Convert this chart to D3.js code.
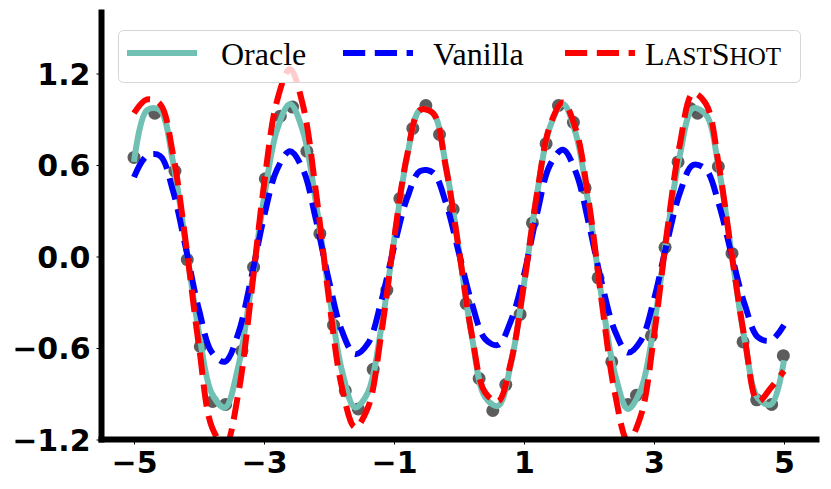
<!DOCTYPE html>
<html>
<head>
<meta charset="utf-8">
<script src="https://cdn.jsdelivr.net/npm/d3@7"></script>
<style>
body { margin: 0; background: #fff; }
svg { display: block; }
</style>
</head>
<body>
<svg id="svg" width="831" height="489"></svg>
<script>
// x grid shared by the three curves
var xGrid = [-5.0,-4.8,-4.6,-4.4,-4.2,-4.0,-3.8,-3.6,-3.4,-3.2,-3.0,-2.8,-2.6,-2.4,-2.2,-2.0,-1.8,-1.6,-1.4,-1.2,
             -1.0,-0.8,-0.6,-0.4,-0.2,0.0,0.2,0.4,0.6,0.8,1.0,1.2,1.4,1.6,1.8,2.0,2.2,2.4,2.6,2.8,
             3.0,3.2,3.4,3.6,3.8,4.0,4.2,4.4,4.6,4.8,5.0];

var oracle = [0.62,0.96,0.96,0.62,0.07,-0.50,-0.90,-0.99,-0.73,-0.21,0.38,0.83,1.00,0.82,0.35,-0.24,-0.75,-0.99,-0.89,-0.48,
              0.10,0.65,0.96,0.94,0.59,0.04,-0.53,-0.92,-0.98,-0.70,-0.18,0.41,0.85,1.00,0.80,0.32,-0.28,-0.77,-1.00,-0.87,
              -0.45,0.14,0.67,0.97,0.93,0.57,0.00,-0.56,-0.93,-0.97,-0.68];

var vanilla = [0.52,0.66,0.66,0.43,0.05,-0.35,-0.63,-0.69,-0.51,-0.15,0.26,0.57,0.69,0.57,0.24,-0.16,-0.49,-0.64,-0.57,-0.30,
               0.06,0.38,0.56,0.55,0.35,0.02,-0.31,-0.54,-0.58,-0.42,-0.12,0.28,0.60,0.70,0.55,0.21,-0.18,-0.49,-0.63,-0.55,
               -0.28,0.09,0.42,0.60,0.57,0.34,0.00,-0.32,-0.53,-0.55,-0.45];

var lastShot = [0.94,1.03,1.00,0.67,0.08,-0.59,-1.12,-1.24,-0.91,-0.26,0.47,1.02,1.23,0.99,0.42,-0.28,-0.86,-1.12,-0.99,-0.52,
                0.11,0.66,0.96,0.94,0.58,0.04,-0.52,-0.89,-0.95,-0.69,-0.18,0.41,0.86,1.01,0.83,0.35,-0.31,-0.90,-1.21,-1.04,
                -0.52,0.16,0.74,1.07,1.00,0.59,0.00,-0.55,-0.95,-0.86,-0.75];

// sampled context points (grey dots)
var dotX = [-5.00,-4.68,-4.37,-4.18,-3.98,-3.79,-3.59,-3.34,-3.16,-2.98,-2.75,-2.56,-2.34,-2.14,-1.93,-1.75,-1.55,
            -1.32,-1.11,-0.91,-0.71,-0.51,-0.30,-0.09,0.11,0.31,0.52,0.72,0.94,1.13,1.34,1.53,1.76,
            1.94,2.14,2.35,2.60,2.73,2.96,3.17,3.37,3.56,3.67,3.99,4.20,4.37,4.58,4.81,4.99];
var dotY = [0.65,0.94,0.56,-0.02,-0.59,-0.95,-0.97,-0.62,-0.07,0.51,0.92,0.98,0.69,0.15,-0.45,-0.88,-1.00,
            -0.74,-0.22,0.38,0.84,0.99,0.80,0.31,-0.31,-0.80,-1.01,-0.84,-0.38,0.22,0.74,0.99,0.88,
            0.45,-0.14,-0.69,-0.97,-0.91,-0.52,0.06,0.62,0.97,0.94,0.59,0.02,-0.56,-0.94,-0.97,-0.65];

var xTicks = [-5,-3,-1,1,3,5];
var yTicks = [-1.2,-0.6,0.0,0.6,1.2];

var svg = d3.select("#svg");

var x = d3.scaleLinear().domain([-5.5, 5.5]).range([101.5, 816.5]);
var y = d3.scaleLinear().domain([-1.2, 1.6]).range([439.5, 12.5]);

svg.append("defs").append("clipPath").attr("id", "plot")
  .append("rect")
  .attr("x", x(-5.5)).attr("y", y(1.6))
  .attr("width", x(5.5) - x(-5.5)).attr("height", y(-1.2) - y(1.6));

var plot = svg.append("g").attr("clip-path", "url(#plot)");

// dots
plot.selectAll("circle").data(dotX).enter().append("circle")
  .attr("cx", function(d) { return x(d); })
  .attr("cy", function(d, i) { return y(dotY[i]); })
  .attr("r", 6.5)
  .attr("fill", "#4a4a4a")
  .attr("fill-opacity", 0.9);

var line = d3.line()
  .x(function(d) { return x(d[0]); })
  .y(function(d) { return y(d[1]); })
  .curve(d3.curveCatmullRom.alpha(0.5));

function pairs(vals) {
  return xGrid.map(function(v, i) { return [v, vals[i]]; });
}

plot.append("path").datum(pairs(oracle))
  .attr("d", line)
  .attr("fill", "none")
  .attr("stroke", "#70c1b3")
  .attr("stroke-width", 6)
  .attr("stroke-linejoin", "round");

plot.append("path").datum(pairs(vanilla))
  .attr("d", line)
  .attr("fill", "none")
  .attr("stroke", "#0000ff")
  .attr("stroke-width", 6)
  .attr("stroke-dasharray", "22.2,9.6");

plot.append("path").datum(pairs(lastShot))
  .attr("d", line)
  .attr("fill", "none")
  .attr("stroke", "#ff0000")
  .attr("stroke-width", 6)
  .attr("stroke-dasharray", "22.2,9.6");

// axes
var fmt = d3.format(".1f");
var xAxis = svg.append("g")
  .attr("transform", "translate(0," + y(-1.2) + ")")
  .call(d3.axisBottom(x).tickValues(xTicks).tickSize(5).tickFormat(d3.format("d")));
xAxis.selectAll("text").attr("y", 33).attr("dy", null);

var yAxis = svg.append("g")
  .attr("transform", "translate(" + x(-5.5) + ",0)")
  .call(d3.axisLeft(y).tickValues(yTicks).tickSize(5).tickPadding(6).tickFormat(fmt));
yAxis.selectAll("text").attr("dy", "0.36em");

svg.selectAll(".domain").remove();
svg.selectAll(".tick line").attr("stroke", "#000").attr("stroke-width", 1);
svg.selectAll(".tick text")
  .attr("fill", "#000")
  .style("font-family", "'DejaVu Sans', sans-serif")
  .style("font-weight", "bold")
  .style("font-size", "30px");

// spines
svg.append("line")
  .attr("x1", x(-5.5)).attr("x2", x(-5.5))
  .attr("y1", y(1.6)).attr("y2", y(-1.2))
  .attr("stroke", "#000").attr("stroke-width", 6).attr("stroke-linecap", "square");
svg.append("line")
  .attr("x1", x(-5.5)).attr("x2", x(5.5))
  .attr("y1", y(-1.2)).attr("y2", y(-1.2))
  .attr("stroke", "#000").attr("stroke-width", 6).attr("stroke-linecap", "square");

// legend
var legend = svg.append("g");
legend.append("rect")
  .attr("x", 118.5).attr("y", 30.5).attr("width", 682).attr("height", 52)
  .attr("rx", 5)
  .attr("fill", "#fff").attr("fill-opacity", 0.8)
  .attr("stroke", "#d6d6d6").attr("stroke-width", 1);

var legendItems = [
  { hx: 127, tx: 221, color: "#70c1b3", dash: null },
  { hx: 343, tx: 433, color: "#0000ff", dash: "22.2,9.6" },
  { hx: 565, tx: 645, color: "#ff0000", dash: "22.2,9.6" }
];
legendItems.forEach(function(it) {
  legend.append("line")
    .attr("x1", it.hx).attr("x2", it.hx + 70)
    .attr("y1", 53).attr("y2", 53)
    .attr("stroke", it.color).attr("stroke-width", 6)
    .attr("stroke-dasharray", it.dash);
});

var ltext = legend.append("g")
  .style("font-family", "'Liberation Serif', 'Times New Roman', serif")
  .attr("fill", "#000");
ltext.append("text").attr("x", 221).attr("y", 65).style("font-size", "32px").text("Oracle");
ltext.append("text").attr("x", 433).attr("y", 65).style("font-size", "32px").text("Vanilla");
var ls = ltext.append("text").attr("x", 645).attr("y", 65).style("font-size", "32px");
ls.append("tspan").text("L");
ls.append("tspan").style("font-size", "25px").text("AST");
ls.append("tspan").text("S");
ls.append("tspan").style("font-size", "25px").text("HOT");
</script>
</body>
</html>
